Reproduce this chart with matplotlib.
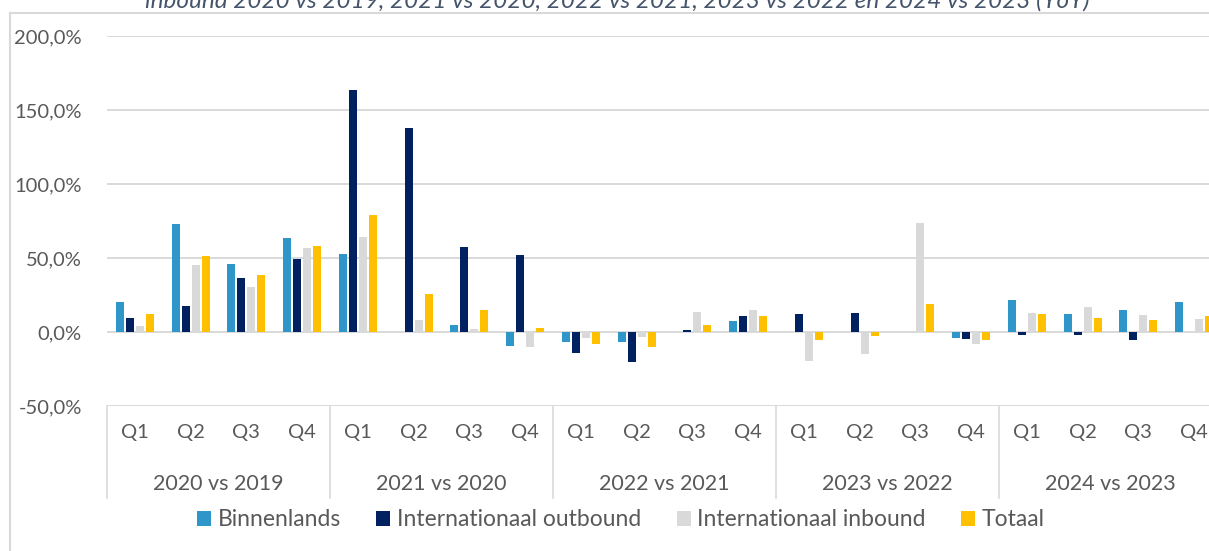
import numpy as np
import matplotlib.pyplot as plt
from matplotlib.transforms import blended_transform_factory
from matplotlib.lines import Line2D

plt.rcParams['font.family'] = ['Lato', 'DejaVu Sans']

# data (percent change YoY)
groups = ['2020 vs 2019', '2021 vs 2020', '2022 vs 2021', '2023 vs 2022', '2024 vs 2023']
quarters = ['Q1', 'Q2', 'Q3', 'Q4']
series_names = ['Binnenlands', 'Internationaal outbound', 'Internationaal inbound', 'Totaal']

binnenlands = [20.3, 73.0, 45.7, 63.5,
               52.9, 0.0, 4.7, -9.2,
               -7.0, -6.5, 0.0, 7.2,
               0.0, 0.0, 0.3, -3.8,
               21.6, 12.2, 14.9, 20.3]
outbound = [9.7, 17.6, 36.7, 49.5,
            163.5, 137.6, 57.4, 52.0,
            -14.0, -20.0, 1.3, 10.8,
            12.2, 12.8, 0.3, -4.5,
            -2.3, -2.3, -5.2, 0.0]
inbound = [4.0, 45.3, 30.2, 56.5,
           64.0, 8.1, 1.8, -10.4,
           -4.3, -3.2, 13.5, 14.9,
           -19.6, -14.6, 73.4, -7.9,
           12.6, 16.7, 11.5, 9.0]
totaal = [12.4, 51.4, 38.5, 58.3,
          79.0, 25.9, 15.1, 2.7,
          -8.1, -9.9, 4.7, 10.8,
          -5.2, -2.7, 19.1, -5.6,
          11.9, 9.7, 7.9, 10.8]

colors = ['#2E96C8', '#002060', '#D9D9D9', '#FFC000']
title = 'inbound 2020 vs 2019, 2021 vs 2020, 2022 vs 2021, 2023 vs 2022 en 2024 vs 2023 (YoY)'

W, H = 1209, 551
fig = plt.figure(figsize=(W / 100, H / 100), dpi=100)

# axes: x from 107px to 1222px (cut by the image edge), y from 36px to 406px
ax = fig.add_axes([107 / W, 1 - 406 / H, (1222 - 107) / W, 370 / H])

n = len(groups) * len(quarters)
x = np.arange(n)
bw = 0.145
step = 0.18
all_series = [binnenlands, outbound, inbound, totaal]
for k, (vals, c, name) in enumerate(zip(all_series, colors, series_names)):
    ax.bar(x + (k - 1.5) * step, vals, width=bw, color=c, label=name, zorder=3)

ax.set_xlim(-0.5, n - 0.5)
ax.set_ylim(-50, 200)
ax.set_yticks([-50, 0, 50, 100, 150, 200])
ax.set_yticklabels([('%.1f%%' % v).replace('.', ',') for v in [-50, 0, 50, 100, 150, 200]])
ax.yaxis.grid(True, color='#D9D9D9', linewidth=1.4, zorder=0)
ax.tick_params(axis='y', length=0, pad=18, labelsize=14.5, labelcolor='#595959')
ax.tick_params(axis='x', length=0, pad=13, labelsize=14.5, labelcolor='#595959')
ax.set_xticks(x)
ax.set_xticklabels(quarters * len(groups))
for s in ax.spines.values():
    s.set_visible(False)

# group labels and separators below the axis
trans = blended_transform_factory(ax.transData, fig.transFigure)
for g, name in enumerate(groups):
    ax.text(g * 4 + 1.5, 1 - 484 / H, name, transform=trans, ha='center', va='center',
            fontsize=15.5, color='#595959')
for g in range(len(groups) + 1):
    xs = g * 4 - 0.5
    ax.add_line(Line2D([xs, xs], [1 - 406 / H, 1 - 498 / H], transform=trans,
                       color='#D9D9D9', linewidth=1.2, clip_on=False))

# chart frame (left and top edge visible in the crop)
fig.add_artist(Line2D([10 / W, 10 / W], [0, 1 - 13 / H], color='#D9D9D9', linewidth=1.5))
fig.add_artist(Line2D([10 / W, 1], [1 - 13 / H, 1 - 13 / H], color='#D9D9D9', linewidth=1.5))

# title, partly cut off at the top as in the source
fig.text(617 / W, 1 - 8 / H, title, ha='center', va='baseline', fontsize=17.5,
         style='italic', color='#44546A')

fig.legend(loc='center', bbox_to_anchor=(621 / W, 1 - 520 / H), ncol=4, frameon=False,
           fontsize=16.5, labelcolor='#595959', handlelength=0.6, handleheight=0.6,
           handletextpad=0.3, columnspacing=1.55)

fig.savefig('out.png', dpi=100)
